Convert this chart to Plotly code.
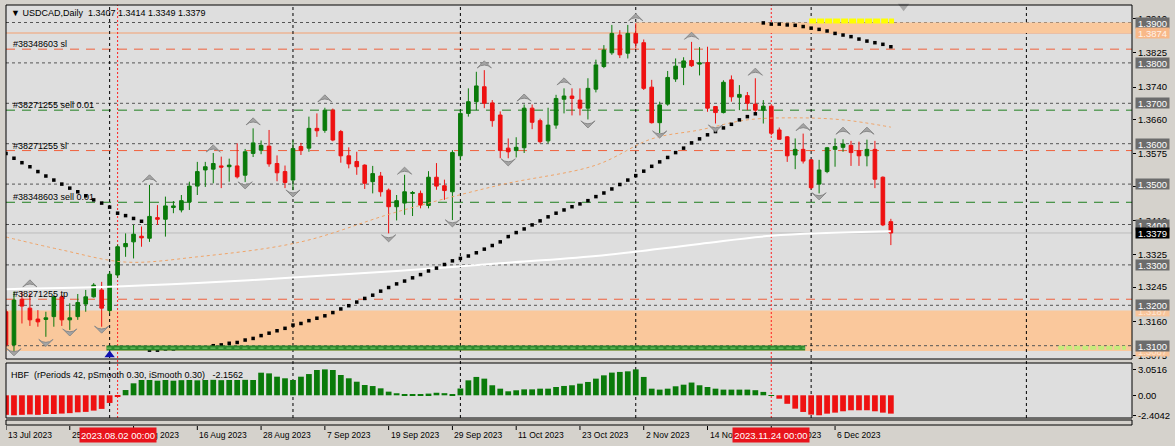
import plotly.graph_objects as go

# ---------------- data ----------------
open_ = [1.3184,1.3102,1.3215,1.3193,1.3166,1.3165,1.3172,1.3221,1.3164,1.3172,
         1.3203,1.3221,1.3238,1.3187,1.3275,1.3345,1.3357,1.3371,1.3366,1.3417,
         1.3413,1.3442,1.3436,1.3456,1.3495,1.3535,1.3537,1.3545,1.3543,1.3545,
         1.3522,1.3576,1.3584,1.3594,1.3551,1.3531,1.3510,1.3593,1.3589,1.3638,
         1.3633,1.3683,1.3630,1.3570,1.3556,1.3547,1.3506,1.3520,1.3485,1.3444,
         1.3453,1.3477,1.3477,1.3447,1.3517,1.3496,1.3481,1.3570,1.3675,1.3704,
         1.3741,1.3701,1.3671,1.3589,1.3583,1.3590,1.3688,1.3657,1.3607,1.3646,
         1.3710,1.3718,1.3708,1.3688,1.3735,1.3791,1.3825,1.3869,1.3824,1.3873,
         1.3850,1.3740,1.3652,1.3698,1.3760,1.3789,1.3806,1.3797,1.3801,1.3692,
         1.3677,1.3758,1.3715,1.3719,1.3698,1.3683,1.3693,1.3634,1.3617,1.3572,
         1.3586,1.3560,1.3500,1.3531,1.3586,1.3591,1.3596,1.3583,1.3570,1.3586,
         1.3517,1.3407]
high = [1.3190,1.3234,1.3234,1.3230,1.3188,1.3184,1.3225,1.3225,1.3205,1.3228,
        1.3238,1.3255,1.3258,1.3283,1.3350,1.3378,1.3399,1.3395,1.3498,1.3448,
        1.3469,1.3458,1.3473,1.3506,1.3555,1.3555,1.3577,1.3568,1.3563,1.3601,
        1.3587,1.3638,1.3608,1.3634,1.3571,1.3546,1.3609,1.3602,1.3667,1.3675,
        1.3689,1.3687,1.3634,1.3591,1.3580,1.3549,1.3545,1.3530,1.3489,1.3473,
        1.3523,1.3483,1.3484,1.3532,1.3552,1.3511,1.3584,1.3683,1.3737,1.3778,
        1.3782,1.3708,1.3680,1.3613,1.3616,1.3697,1.3697,1.3662,1.3689,1.3721,
        1.3737,1.3737,1.3737,1.3762,1.3808,1.3844,1.3894,1.3881,1.3894,1.3898,
        1.3858,1.3758,1.3704,1.3780,1.3811,1.3814,1.3852,1.3839,1.3840,1.3693,
        1.3757,1.3769,1.3745,1.3728,1.3762,1.3708,1.3694,1.3640,1.3619,1.3613,
        1.3625,1.3561,1.3560,1.3592,1.3613,1.3611,1.3607,1.3605,1.3610,1.3607,
        1.3519,1.3414]
low = [1.3098,1.3085,1.3155,1.3149,1.3147,1.3122,1.3147,1.3149,1.3139,1.3164,
       1.3184,1.3219,1.3147,1.3180,1.3268,1.3320,1.3316,1.3345,1.3357,1.3399,
       1.3370,1.3428,1.3430,1.3436,1.3473,1.3493,1.3502,1.3490,1.3506,1.3514,
       1.3505,1.3567,1.3574,1.3543,1.3507,1.3490,1.3485,1.3572,1.3580,1.3617,
       1.3627,1.3606,1.3553,1.3539,1.3523,1.3488,1.3477,1.3469,1.3378,1.3410,
       1.3424,1.3421,1.3440,1.3440,1.3486,1.3461,1.3411,1.3559,1.3667,1.3683,
       1.3688,1.3642,1.3564,1.3564,1.3566,1.3577,1.3636,1.3601,1.3601,1.3637,
       1.3675,1.3670,1.3670,1.3660,1.3727,1.3787,1.3820,1.3812,1.3811,1.3836,
       1.3733,1.3650,1.3626,1.3694,1.3753,1.3745,1.3790,1.3769,1.3679,1.3650,
       1.3675,1.3704,1.3683,1.3683,1.3675,1.3650,1.3621,1.3610,1.3555,1.3537,
       1.3551,1.3487,1.3477,1.3527,1.3543,1.3580,1.3545,1.3545,1.3544,1.3490,
       1.3396,1.3349]
close = [1.3102,1.3213,1.3198,1.3164,1.3159,1.3169,1.3221,1.3164,1.3169,1.3207,
         1.3221,1.3250,1.3193,1.3277,1.3345,1.3353,1.3376,1.3367,1.3420,1.3413,
         1.3446,1.3446,1.3459,1.3495,1.3531,1.3543,1.3551,1.3542,1.3547,1.3518,
         1.3580,1.3602,1.3596,1.3550,1.3528,1.3504,1.3588,1.3584,1.3638,1.3632,
         1.3683,1.3609,1.3570,1.3550,1.3543,1.3502,1.3526,1.3481,1.3444,1.3459,
         1.3481,1.3479,1.3448,1.3517,1.3495,1.3484,1.3578,1.3675,1.3704,1.3743,
         1.3700,1.3657,1.3583,1.3580,1.3591,1.3688,1.3653,1.3605,1.3646,1.3712,
         1.3718,1.3712,1.3688,1.3737,1.3795,1.3832,1.3873,1.3820,1.3873,1.3849,
         1.3737,1.3652,1.3696,1.3764,1.3792,1.3805,1.3793,1.3800,1.3688,1.3677,
         1.3752,1.3716,1.3722,1.3700,1.3683,1.3693,1.3626,1.3611,1.3570,1.3586,
         1.3557,1.3491,1.3535,1.3590,1.3593,1.3599,1.3578,1.3570,1.3586,1.3512,
         1.3399,1.3379]

# parabolic-SAR style dotted series (one value per bar)
sar = [1.3576,1.3564,1.3553,1.3543,1.3531,1.3520,1.3510,1.3500,1.3490,1.3481,
       1.3471,1.3461,1.3453,1.3443,1.3428,1.3422,1.3415,1.3408,
       1.3089,1.3089,1.3092,1.3092,1.3094,1.3094,1.3094,1.3095,1.3100,1.3102,
       1.3106,1.3108,1.3114,1.3118,1.3125,1.3131,1.3137,1.3143,1.3151,1.3155,
       1.3162,1.3168,1.3174,1.3182,1.3191,1.3199,1.3208,1.3217,1.3225,1.3235,
       1.3244,1.3253,1.3260,1.3268,1.3276,1.3285,1.3292,1.3301,1.3310,1.3316,
       1.3322,1.3330,1.3339,1.3348,1.3357,1.3370,1.3380,1.3389,1.3399,1.3409,
       1.3419,1.3428,1.3436,1.3444,1.3451,1.3459,1.3469,1.3478,1.3488,1.3499,
       1.3510,1.3521,1.3532,1.3544,1.3555,1.3566,1.3578,1.3589,1.3602,1.3612,
       1.3622,1.3630,1.3639,1.3648,1.3659,1.3667,1.3674,
       1.3899,1.3896,1.3896,1.3894,1.3893,1.3890,1.3886,1.3883,1.3879,1.3873,
       1.3869,1.3865,1.3859,1.3854,1.3850,1.3846,1.3840]

# slow moving average (white) and medium MA (orange dotted), read at sample bars
white_idx = [0, 12, 24, 37, 49, 62, 74, 87, 96, 111]
white_val = [1.3240, 1.3245, 1.3255, 1.3270, 1.3285, 1.3304, 1.3322, 1.3352, 1.3372, 1.3383]
orange_idx = [0, 7, 15, 24, 37, 49, 62, 74, 81, 87, 93, 99, 105, 111]
orange_val = [1.3369, 1.3337, 1.3307, 1.3320, 1.3357, 1.3431, 1.3498, 1.3547, 1.3612,
              1.3634, 1.3659, 1.3664, 1.3659, 1.3641]

# fractals
frac_up_idx = [3, 18, 26, 31, 40, 50, 60, 65, 70, 79, 86, 94, 100, 105, 108]
frac_up_val = [1.3263, 1.3523, 1.3597, 1.3664, 1.3721, 1.3542, 1.3805, 1.3723, 1.3763,
               1.3922, 1.3876, 1.3787, 1.3650, 1.3641, 1.3641]
frac_dn_idx = [1, 5, 8, 12, 30, 36, 48, 56, 63, 73, 82, 89, 102]
frac_dn_val = [1.3075, 1.3098, 1.3124, 1.3131, 1.3488, 1.3468, 1.3357, 1.3394, 1.3545,
               1.3639, 1.3614, 1.3629, 1.3461]

# HBF histogram
hbf = [-2.30,-2.35,-2.30,-2.25,-2.30,-2.20,-2.20,-2.15,-2.10,-2.00,
       -1.95,-1.80,-1.60,-0.90,-0.10,0.62,1.41,1.80,1.80,1.72,
       1.80,1.72,1.78,1.80,1.76,1.80,1.82,1.78,1.80,1.80,
       1.82,1.80,2.66,2.58,2.19,2.00,1.80,2.19,2.50,2.98,
       3.05,2.98,2.39,2.00,1.60,1.21,1.09,0.82,0.43,0.24,
       0.15,0.12,0.15,0.20,0.30,0.25,0.05,0.80,1.76,2.16,
       1.96,1.18,0.78,0.47,0.59,0.70,0.70,0.78,0.78,0.98,
       1.10,1.18,1.37,1.57,1.96,2.35,2.67,2.75,2.82,3.05,
       2.16,0.78,0.67,0.78,1.06,1.25,1.50,1.18,0.98,0.78,
       0.67,0.67,0.67,0.67,0.60,0.40,0.03,-0.40,-1.00,-1.57,
       -1.96,-2.27,-2.35,-2.16,-2.04,-1.88,-1.76,-1.76,-1.76,-1.88,
       -2.04,-2.1562]

# date axis labels (bar index -> label)
date_tick_idx = [0, 8, 16, 24, 32, 40, 48, 56, 64, 72, 80, 88, 96, 104]
date_tick_text = ["13 Jul 2023", "25 Jul 2023", "4 Aug 2023", "16 Aug 2023", "28 Aug 2023",
                  "7 Sep 2023", "19 Sep 2023", "29 Sep 2023", "11 Oct 2023", "23 Oct 2023",
                  "2 Nov 2023", "14 Nov 2023", "24 Nov 2023", "6 Dec 2023"]
marked_idx = [14, 96]
marked_text = ["2023.08.02 00:00", "2023.11.24 00:00"]
separator_idx = [13, 36, 57, 79, 101, 128]
shift_idx = 112.6

# price levels
round_levels = [1.3900, 1.3800, 1.3700, 1.3600, 1.3500, 1.3400, 1.3300, 1.3200, 1.3100]
axis_ticks = [1.3910, 1.3825, 1.3740, 1.3660, 1.3575, 1.3495, 1.3410, 1.3325, 1.3245, 1.3160, 1.3075]
order_levels = [1.3834, 1.3683, 1.3583, 1.3455, 1.3215]
order_labels = ["#38348603 sl", "#38271255 sell 0.01", "#38271255 sl", "#38348603 sell 0.01", "#38271255 tp"]
order_kinds = ["sl", "entry", "sl", "entry", "tp"]
upper_zone = [1.3874, 1.3900]
upper_zone_start = 79
lower_zone = [1.3087, 1.3187]
bid_price = 1.3379
green_zone_level = 1.3094
green_zone_span = [12.6, 100.25]
yellow_level = 1.3904
yellow_span = [100.75, 111.4]
lime_level = 1.3095
lime_span = [132, 140.5]
arrow_idx = 13
arrow_price = 1.3077

hbf_ticks = [3.0516, 0.0, -2.4042]
hbf_ticktext = ["3.0516", "0.00", "-2.4042"]

# ---------------- geometry ----------------
W, H = 1175, 446
ML, MR, MT, MB = 6, 39, 5, 28
PH = H - MT - MB
PW = W - ML - MR


def py(pix):
    return (H - MB - pix) / PH


def px(pix):
    return (pix - ML) / PW


FONT = "Liberation Sans, Arial, DejaVu Sans, sans-serif"
idx = list(range(len(open_)))

fig = go.Figure()

# white slow MA
fig.add_trace(go.Scatter(x=white_idx, y=white_val, mode="lines",
                         line=dict(color="white", width=2, shape="spline"),
                         hoverinfo="skip", showlegend=False))
# orange dotted MA
fig.add_trace(go.Scatter(x=orange_idx, y=orange_val, mode="lines",
                         line=dict(color="#f0a468", width=1, dash="dot", shape="spline"),
                         hoverinfo="skip", showlegend=False))
# candles
fig.add_trace(go.Candlestick(x=idx, open=open_, high=high, low=low, close=close,
                             increasing=dict(line=dict(color="#0a7a0a", width=1), fillcolor="#0a7a0a"),
                             decreasing=dict(line=dict(color="#ee1111", width=1), fillcolor="#ee1111"),
                             whiskerwidth=0, hoverinfo="skip", showlegend=False))
# SAR dots
fig.add_trace(go.Scatter(x=idx, y=sar, mode="markers",
                         marker=dict(color="black", size=3.5, symbol="square"),
                         hoverinfo="skip", showlegend=False))
# fractals
fig.add_trace(go.Scatter(x=frac_up_idx, y=frac_up_val, mode="markers",
                         marker=dict(symbol="arrow-wide", size=10, color="#a4a4a4",
                                     line=dict(color="#8a8a8a", width=1)),
                         hoverinfo="skip", showlegend=False))
fig.add_trace(go.Scatter(x=frac_dn_idx, y=frac_dn_val, mode="markers",
                         marker=dict(symbol="arrow-wide", angle=180, size=10, color="#a4a4a4",
                                     line=dict(color="#8a8a8a", width=1)),
                         hoverinfo="skip", showlegend=False))
# blue arrow
fig.add_trace(go.Scatter(x=[arrow_idx], y=[arrow_price], mode="markers",
                         marker=dict(symbol="triangle-up", size=9, color="#1010b0"),
                         hoverinfo="skip", showlegend=False))
# chart-shift marker at top edge
fig.add_trace(go.Scatter(x=[shift_idx], y=[1.3940], mode="markers", cliponaxis=False,
                         marker=dict(symbol="triangle-down", size=10, color="#a8a8a8"),
                         hoverinfo="skip", showlegend=False))
# HBF histogram
hbf_colors = ["#0a7a0a" if v >= 0 else "#ee1111" for v in hbf]
fig.add_trace(go.Bar(x=idx, y=hbf, marker=dict(color=hbf_colors, line=dict(width=0)),
                     width=0.72, yaxis="y2", hoverinfo="skip", showlegend=False))

shapes = []
# zones
shapes.append(dict(type="rect", xref="paper", yref="y", x0=0, x1=1,
                   y0=lower_zone[0], y1=lower_zone[1], fillcolor="#fac89c",
                   line=dict(width=0), layer="below"))
shapes.append(dict(type="rect", xref="x", yref="y", x0=upper_zone_start, x1=145,
                   y0=upper_zone[0], y1=upper_zone[1], fillcolor="#fac89c",
                   line=dict(width=0), layer="below"))
shapes.append(dict(type="line", xref="paper", yref="y", x0=0, x1=1,
                   y0=upper_zone[0], y1=upper_zone[0], line=dict(color="#f4a070", width=1),
                   layer="below"))
# round levels
for lv in round_levels:
    shapes.append(dict(type="line", xref="paper", yref="y", x0=0, x1=1, y0=lv, y1=lv,
                       line=dict(color="#555555", width=1, dash="3px,3px"), layer="below"))
# order lines
for lv, kind in zip(order_levels, order_kinds):
    col = "#1f7f1f" if kind == "entry" else "#f0603c"
    shapes.append(dict(type="line", xref="paper", yref="y", x0=0, x1=1, y0=lv, y1=lv,
                       line=dict(color=col, width=1, dash="9px,7px"), layer="below"))
# bid line
shapes.append(dict(type="line", xref="paper", yref="y", x0=0, x1=1, y0=bid_price, y1=bid_price,
                   line=dict(color="#bdbdbd", width=1), layer="below"))
# vertical separators
for s in separator_idx:
    shapes.append(dict(type="line", xref="x", yref="paper", x0=s, x1=s, y0=0, y1=1,
                       line=dict(color="black", width=1, dash="3px,3px"), layer="below"))
for s in marked_idx:
    shapes.append(dict(type="line", xref="x", yref="paper", x0=s, x1=s, y0=0, y1=1,
                       line=dict(color="#ff2020", width=1, dash="2px,2px"), layer="below"))
# green zone line
shapes.append(dict(type="line", xref="x", yref="y", x0=green_zone_span[0], x1=green_zone_span[1],
                   y0=green_zone_level, y1=green_zone_level,
                   line=dict(color="#2e8a2e", width=5)))
shapes.append(dict(type="line", xref="x", yref="y", x0=green_zone_span[0], x1=green_zone_span[1],
                   y0=green_zone_level, y1=green_zone_level,
                   line=dict(color="#7ccc6c", width=1, dash="5px,3px")))
# yellow & lime segments
shapes.append(dict(type="line", xref="x", yref="y", x0=yellow_span[0], x1=yellow_span[1],
                   y0=yellow_level, y1=yellow_level,
                   line=dict(color="#ffff00", width=5, dash="7px,1px")))
shapes.append(dict(type="line", xref="x", yref="y", x0=lime_span[0], x1=lime_span[1],
                   y0=lime_level, y1=lime_level,
                   line=dict(color="#c6ec7c", width=4, dash="6px,2px")))
# panel frames
main_dom = [py(359), 1.0]
ind_dom = [0.0, py(363)]
shapes.append(dict(type="rect", xref="paper", yref="paper", x0=0, x1=1, y0=main_dom[0], y1=1,
                   line=dict(color="black", width=1)))
shapes.append(dict(type="rect", xref="paper", yref="paper", x0=0, x1=1, y0=0, y1=ind_dom[1],
                   line=dict(color="black", width=1)))
shapes.append(dict(type="rect", xref="paper", yref="paper", x0=0, x1=1, y0=py(420), y1=py(425),
                   line=dict(color="black", width=1)))
# date ticks
for d in date_tick_idx:
    shapes.append(dict(type="line", xref="x", yref="paper", x0=d, x1=d, y0=py(426), y1=py(430),
                       line=dict(color="black", width=1)))

annotations = []
# header
annotations.append(dict(xref="paper", yref="paper", x=px(9), y=py(13), xanchor="left", yanchor="middle",
                        text="\u25bc USDCAD,Daily  1.3407 1.3414 1.3349 1.3379", showarrow=False,
                        font=dict(family=FONT, size=9, color="black")))
# order labels
for lv, lab in zip(order_levels, order_labels):
    annotations.append(dict(xref="paper", yref="y", x=px(11), y=lv, xanchor="left", yanchor="bottom",
                            text=lab, showarrow=False, yshift=-2,
                            font=dict(family=FONT, size=9, color="black")))
# HBF caption
annotations.append(dict(xref="paper", yref="paper", x=px(9), y=py(375), xanchor="left", yanchor="middle",
                        text="HBF  (rPeriods 42, pSmooth 0.30, iSmooth 0.30)   -2.1562", showarrow=False,
                        font=dict(family=FONT, size=9, color="black")))


def price_box(val, bg, fg, text=None):
    return dict(xref="paper", yref="y", x=1, y=val, xanchor="left", yanchor="middle", xshift=3,
                text=text if text else f"{val:.4f}", showarrow=False, bgcolor=bg, borderpad=0,
                width=33, height=10, align="center",
                font=dict(family=FONT, size=9.5, color=fg))


annotations.append(price_box(lower_zone[1], "#f8c49a", "#fde6d4"))
annotations.append(price_box(lower_zone[0], "#f8c49a", "#fde6d4"))
for lv in round_levels:
    annotations.append(price_box(lv, "#6c6c6c", "white"))
annotations.append(price_box(upper_zone[0], "#f8b888", "#fff2e8"))
annotations.append(price_box(bid_price, "black", "white"))

# date labels
for d, t in zip(date_tick_idx, date_tick_text):
    annotations.append(dict(xref="x", yref="paper", x=d, y=py(435), xanchor="left", yanchor="middle",
                            xshift=0, text=t, showarrow=False,
                            font=dict(family=FONT, size=8.5, color="black")))
for d, t in zip(marked_idx, marked_text):
    annotations.append(dict(xref="x", yref="paper", x=d, y=py(435), xanchor="center", yanchor="middle",
                            text=t, showarrow=False, bgcolor="#e8141c", borderpad=0,
                            width=76, height=14, align="center",
                            font=dict(family=FONT, size=9.5, color="white")))

fig.update_layout(
    width=W, height=H, margin=dict(l=ML, r=MR, t=MT, b=MB, pad=0),
    paper_bgcolor="#d5d2cc", plot_bgcolor="#dedede",
    showlegend=False, hovermode=False, boxgap=0.35, bargap=0.3,
    shapes=shapes, annotations=annotations,
    xaxis=dict(range=[0, 141.25], showgrid=False, zeroline=False, showticklabels=False,
               ticks="", showline=False, rangeslider=dict(visible=False), fixedrange=True,
               anchor="y2"),
    yaxis=dict(domain=main_dom, range=[1.306708, 1.394332], side="right", showgrid=False,
               zeroline=False, tickvals=axis_ticks, ticktext=[f"{v:.4f}" for v in axis_ticks],
               ticks="outside", ticklen=3, tickcolor="black",
               tickfont=dict(family=FONT, size=9.5, color="black"), anchor="x", fixedrange=True),
    yaxis2=dict(domain=ind_dom, range=[-2.67, 3.80], side="right", showgrid=False, zeroline=False,
                tickvals=hbf_ticks, ticktext=hbf_ticktext, ticks="outside", ticklen=3,
                tickcolor="black", tickfont=dict(family=FONT, size=9.5, color="black"),
                anchor="x", fixedrange=True),
)

fig.write_html("out.html", config={"displayModeBar": False},
               post_script="document.body.style.margin='0';")
